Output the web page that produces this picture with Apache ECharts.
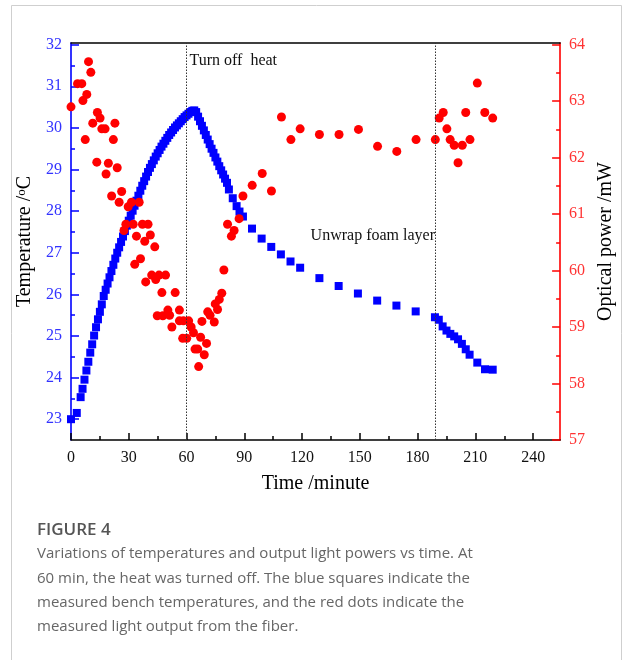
<!DOCTYPE html>
<html>
<head>
<meta charset="utf-8">
<script src="https://cdn.jsdelivr.net/npm/echarts@6/dist/echarts.min.js"></script>
<style>
html,body{margin:0;padding:0;background:#fff;}
#chart{width:624px;height:660px;}
</style>
</head>
<body>
<div id="chart"></div>
<script>
// ---- data ----
var tempTime = [0,3,5,6,7,8,9,10,11,12,13,14,15,16,17,18,19,20,21,22,23,24,25,26,27,28,29,30,31,32,33,34,35,36,37,38,39,40,41,42,43,44,45,46,47,48,49,50,51,52,53,54,55,56,57,58,59,60,61,62,63,64,
  65,66,67,68,69,70,71,72,73,74,75,76,77,78,79,80,81,82,84,86,87.5,89.3,
  94,99,104,109,114,119,129,139,149,159,169,179,189,191,193,195,197,199,201,203,205,207,211,215,219];
var tempValue = [23.00,23.15,23.53,23.73,23.95,24.17,24.38,24.60,24.80,25.01,25.21,25.40,25.58,25.76,25.96,26.11,26.26,26.41,26.56,26.71,26.86,27.00,27.13,27.26,27.39,27.52,27.65,27.77,27.89,28.01,28.13,28.25,28.37,28.49,28.61,28.72,28.83,28.94,29.04,29.13,29.22,29.31,29.39,29.47,29.55,29.62,29.69,29.76,29.83,29.89,29.95,30.01,30.06,30.11,30.16,30.21,30.26,30.30,30.34,30.38,30.41,30.42,
  30.38,30.27,30.16,30.05,29.94,29.83,29.72,29.61,29.50,29.40,29.29,29.19,29.08,28.98,28.88,28.78,28.68,28.52,28.31,28.12,27.99,27.87,
  27.58,27.34,27.14,26.96,26.79,26.64,26.39,26.20,26.02,25.85,25.73,25.59,25.45,25.39,25.23,25.13,25.05,24.99,24.92,24.81,24.68,24.55,24.36,24.20,24.19];

var powerTime = [0,3.4,5.6,6.2,7.4,8.2,9.1,10.3,11.3,13.4,13.7,15.1,16.0,17.7,18.2,19.4,21.1,22.0,22.8,24.0,25.0,26.3,27.5,28.5,29.7,31.4,32.3,33.1,34.0,35.4,36.1,37.1,38.3,38.8,40.0,41.2,41.9,43.5,44.0,44.8,45.7,47.2,47.7,49.1,50.3,51.2,52.4,54.1,56.3,56.3,58.0,58.4,60.1,61.1,62.4,63.6,64.4,65.8,66.3,67.3,68.0,69.2,70.4,71.0,72.2,74.4,74.9,76.1,77.0,78.3,79.4,
  81.3,83.3,84.7,87.3,89.3,94.1,99.3,104.1,109.3,114.2,119.0,129.0,139.2,149.3,159.2,169.2,179.2,189.2,191.2,193.3,195.2,196.9,199.0,201.0,203.2,205.0,207.2,211.0,214.9,219.0];
var powerValue = [62.90,63.31,63.31,63.01,62.32,63.12,63.70,63.51,62.61,61.92,62.80,62.70,62.51,62.51,61.71,61.90,61.32,62.32,62.61,61.82,61.21,61.40,60.71,60.82,61.13,61.21,60.82,60.11,60.61,61.21,60.21,60.82,60.52,59.80,60.82,60.63,59.92,60.42,59.84,59.20,59.92,59.61,59.20,59.92,59.30,59.21,59.00,59.61,59.30,59.11,58.80,59.11,58.80,59.11,59.00,58.90,58.61,58.61,58.30,58.82,59.10,58.51,58.71,59.27,59.21,59.09,59.41,59.31,59.49,59.60,60.01,
  60.82,60.61,60.71,60.92,61.32,61.51,61.72,61.41,62.72,62.32,62.51,62.41,62.41,62.50,62.20,62.11,62.32,62.32,62.70,62.80,62.51,62.32,62.22,61.91,62.22,62.80,62.32,63.32,62.80,62.70];

var eventTimes = [60, 189.3];
var xMinorTicks = [15,45,75,105,135,165,195,225];
var tempTicks = [23,24,25,26,27,28,29,30,31,32];
var tempMinorTicks = [23.5,24.5,25.5,26.5,27.5,28.5,29.5,30.5,31.5];
var powerTicks = [57,58,59,60,61,62,63,64];
var powerMinorTicks = [57.5,58.5,59.5,60.5,61.5,62.5,63.5];

var tempData = tempTime.map(function(t,i){return [t,tempValue[i]];});
var powerData = powerTime.map(function(t,i){return [t,powerValue[i]];});

var serif = '"Liberation Serif","Times New Roman",serif';
var BLUE = '#0000ff', RED = '#ff0000';
var X_MIN=0, X_MAX=254, T_MIN=22.5, T_MAX=32.04, P_MIN=57, P_MAX=64.03;

function minorAxis(pos, min, max, values, color){
  return {type:'value',min:min,max:max,position:pos,
    axisLine:{show:false,onZero:false},
    axisTick:{show:true,inside:true,length:4,customValues:values,lineStyle:{color:color,width:1.5}},
    axisLabel:{show:false},splitLine:{show:false}};
}

var chart = echarts.init(document.getElementById('chart'), null, {renderer:'canvas'});
chart.setOption({
  animation:false,
  backgroundColor:'#fff',
  grid:{left:71,right:61,top:43,height:397,show:false},
  xAxis:[{
    type:'value',min:X_MIN,max:X_MAX,interval:30,position:'bottom',
    name:'Time /minute',nameLocation:'middle',nameGap:34,
    nameTextStyle:{fontFamily:serif,fontSize:20,color:'#000'},
    axisLine:{show:true,onZero:false,lineStyle:{color:'#000',width:1.5}},
    axisTick:{show:true,inside:true,length:7,lineStyle:{color:'#000',width:1.5}},
    axisLabel:{fontFamily:serif,fontSize:16,color:'#111',margin:10,showMaxLabel:false,
      formatter:function(v){return v%30===0?String(v):'';}},
    splitLine:{show:false}
  },
  minorAxis('bottom', X_MIN, X_MAX, xMinorTicks, '#000'),
  {
    type:'value',min:X_MIN,max:X_MAX,position:'top',
    axisLine:{show:true,onZero:false,lineStyle:{color:'#000',width:1.5}},
    axisTick:{show:false},axisLabel:{show:false},splitLine:{show:false}
  }],
  yAxis:[{
    type:'value',min:T_MIN,max:T_MAX,position:'left',
    name:'Temperature /{s|o}C',nameLocation:'middle',nameGap:36,nameRotate:90,
    nameTextStyle:{fontFamily:serif,fontSize:20,color:'#000',
      rich:{s:{fontFamily:serif,fontSize:13,color:'#000',verticalAlign:'top',lineHeight:20}}},
    axisLine:{show:true,onZero:false,lineStyle:{color:BLUE,width:1.6}},
    axisTick:{show:true,inside:true,length:8,customValues:tempTicks,lineStyle:{color:BLUE,width:1.5}},
    axisLabel:{customValues:tempTicks,fontFamily:serif,fontSize:16,color:'#3333ff',margin:9},
    splitLine:{show:false}
  },{
    type:'value',min:P_MIN,max:P_MAX,position:'right',
    name:'Optical power /mW',nameLocation:'middle',nameGap:32,nameRotate:90,
    nameTextStyle:{fontFamily:serif,fontSize:20,color:'#000'},
    axisLine:{show:true,onZero:false,lineStyle:{color:RED,width:1.6}},
    axisTick:{show:true,inside:true,length:8,customValues:powerTicks,lineStyle:{color:RED,width:1.5}},
    axisLabel:{customValues:powerTicks,fontFamily:serif,fontSize:16,color:'#ff3333',margin:9},
    splitLine:{show:false}
  },
  minorAxis('left', T_MIN, T_MAX, tempMinorTicks, BLUE),
  minorAxis('right', P_MIN, P_MAX, powerMinorTicks, RED)
  ],
  series:[{
    name:'Temperature',type:'scatter',xAxisIndex:0,yAxisIndex:0,
    symbol:'rect',symbolSize:8,itemStyle:{color:BLUE,opacity:1},
    data:tempData,z:2,
    markLine:{silent:true,symbol:'none',label:{show:false},
      lineStyle:{type:[1.5,1.5],color:'#333',width:1},
      data:eventTimes.map(function(t){return {xAxis:t};})}
  },{
    name:'Optical power',type:'scatter',xAxisIndex:0,yAxisIndex:1,
    symbol:'circle',symbolSize:9,itemStyle:{color:RED,opacity:1},
    data:powerData,z:3
  }],
  graphic:[
    {type:'rect',shape:{x:11.5,y:5.5,width:610,height:700},style:{fill:'none',stroke:'#cfcfcf',lineWidth:1},z:-10},
    {type:'text',x:189.5,y:61,style:{text:'Turn off  heat',font:'16px '+serif,fill:'#111',verticalAlign:'middle',align:'left'}},
    {type:'text',x:435,y:236,style:{text:'Unwrap foam layer',font:'16px '+serif,fill:'#111',verticalAlign:'middle',align:'right'}},
    {type:'text',x:37,y:530,style:{text:'FIGURE 4',font:'600 17px "Open Sans",sans-serif',fill:'#555',verticalAlign:'middle'}},
    {type:'text',x:37,y:542,style:{text:'Variations of temperatures and output light powers vs time. At\n60 min, the heat was turned off. The blue squares indicate the\nmeasured bench temperatures, and the red dots indicate the\nmeasured light output from the fiber.',
      font:'15px "Open Sans",sans-serif',fill:'#666',lineHeight:24.2,verticalAlign:'top'}}
  ]
});
</script>
</body>
</html>
